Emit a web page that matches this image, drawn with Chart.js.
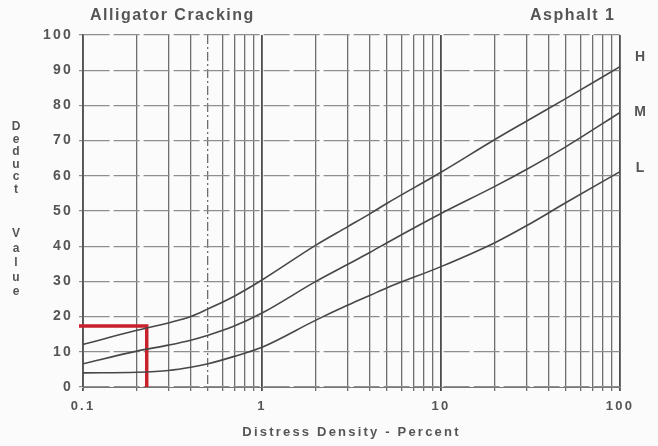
<!DOCTYPE html>
<html>
<head>
<meta charset="utf-8">
<script src="https://cdn.jsdelivr.net/npm/chart.js@4"></script>
<style>
  html, body { margin: 0; padding: 0; background: #fafafa; }
  #wrap { width: 658px; height: 446px; }
</style>
</head>
<body>
<div id="wrap"><canvas id="chart"></canvas></div>
<script>
// densidad (%) y valores deducidos
const density = [0.1, 0.2, 0.3, 0.4, 0.5, 0.7, 1, 2, 3, 4, 5, 10, 20, 30, 50, 100];
const high = [12.1, 16.1, 18.2, 20, 22.2, 25.8, 30.4, 40.3, 45.5, 49.2, 52.2, 61, 70.3, 75.5, 82, 91];
const medium = [6.6, 10.2, 11.9, 13.3, 14.7, 17.3, 21, 30, 34.8, 38.2, 41, 49.3, 57, 61.8, 68.3, 78];
const low = [4, 4.2, 4.7, 5.6, 6.6, 8.7, 11.3, 19, 23.2, 26, 28.2, 34.2, 41, 45.8, 52.4, 61.2];

// ejemplo marcado en rojo
const exampleX = [0.095, 0.227, 0.227];
const exampleY = [17.3, 17.3, 0];

const xGrid = [0.1, 0.2, 0.3, 0.4, 0.5, 0.6, 0.7, 0.8, 0.9,
  1, 2, 3, 4, 5, 6, 7, 8, 9,
  10, 20, 30, 40, 50, 60, 70, 80, 90, 100];
const xLabels = [0.1, 1, 10, 100];
const severity = ['H', 'M', 'L'];
const severityAt = [93.7, 78, 62.2];

const toPoints = (xs, ys) => xs.map((x, i) => ({ x: x, y: ys[i] }));

const curve = (data) => ({
  data: toPoints(density, data),
  borderColor: '#474747',
  borderWidth: 1.6,
  pointRadius: 0,
  cubicInterpolationMode: 'monotone',
  fill: false,
});

const FONT = '"Liberation Sans", Arial, sans-serif';
const TXT = '#555';
const SPACING = '2.2px';

const textPlugin = {
  id: 'textos',
  beforeUpdate(chart) {
    chart.ctx.letterSpacing = SPACING;
  },
  beforeDraw(chart) {
    const ctx = chart.ctx;
    ctx.letterSpacing = SPACING;
    ctx.save();
    ctx.fillStyle = '#fbfbfb';
    ctx.fillRect(0, 0, chart.width, chart.height);
    ctx.restore();
  },
  afterDraw(chart) {
    const ctx = chart.ctx;
    const y = chart.scales.y;
    ctx.save();
    ctx.fillStyle = TXT;
    ctx.textBaseline = 'middle';
    ctx.letterSpacing = '1.5px';
    ctx.font = 'bold 16px ' + FONT;
    ctx.textAlign = 'left';
    ctx.fillText('Alligator Cracking', 90, 16);
    ctx.fillText('Asphalt 1', 530, 16);

    ctx.letterSpacing = '0px';
    ctx.font = 'bold 14px ' + FONT;
    ctx.textAlign = 'center';
    severity.forEach((s, i) => {
      ctx.fillText(s, 640, y.getPixelForValue(severityAt[i]));
    });

    // titulo vertical con letras apiladas
    ctx.font = 'bold 12px ' + FONT;
    'Deduct'.split('').forEach((c, i) => ctx.fillText(c, 16, 127 + i * 12.5));
    'Value'.split('').forEach((c, i) => ctx.fillText(c, 16, 234 + i * 14.5));
    ctx.restore();
  }
};

new Chart(document.getElementById('chart'), {
  type: 'line',
  data: {
    datasets: [
      curve(high),
      curve(medium),
      curve(low),
      {
        data: toPoints(exampleX, exampleY),
        borderColor: '#c8202c',
        borderWidth: 3.5,
        pointRadius: 0,
        tension: 0,
        fill: false,
        clip: 8,
      }
    ]
  },
  options: {
    responsive: true,
    maintainAspectRatio: false,
    animation: false,
    layout: { padding: { left: 0, right: 38, top: 35, bottom: 0 } },
    plugins: {
      legend: { display: false },
      tooltip: { enabled: false },
    },
    scales: {
      x: {
        type: 'logarithmic',
        min: 0.1,
        max: 100,
        afterBuildTicks: (scale) => {
          scale.ticks = xGrid.map(v => ({ value: v }));
        },
        afterFit: (scale) => { scale.height = 59; },
        ticks: {
          autoSkip: false,
          maxRotation: 0,
          padding: 8,
          color: TXT,
          font: { family: FONT, size: 13, weight: 'bold' },
          callback: (v) => xLabels.includes(v) ? String(v) : '',
        },
        grid: {
          tickLength: 4,
          color: (ctx) => {
            const v = ctx.tick ? ctx.tick.value : 0;
            return xLabels.includes(v) ? '#4d4d4d' : '#6e6e6e';
          },
          lineWidth: (ctx) => {
            const v = ctx.tick ? ctx.tick.value : 0;
            return xLabels.includes(v) ? 1.8 : 1.3;
          },
        },
        border: {
          color: '#777',
          dash: (ctx) => (ctx.tick && ctx.tick.value === 0.5) ? [9, 3, 2, 3] : [],
        },
        title: {
          display: true,
          text: 'Distress Density - Percent',
          color: TXT,
          font: { family: FONT, size: 13, weight: 'bold' },
          padding: { top: 0, bottom: 6 },
        },
      },
      y: {
        min: 0,
        max: 100,
        afterFit: (scale) => { scale.width = 83; },
        ticks: {
          stepSize: 10,
          padding: 6,
          color: TXT,
          font: { family: FONT, size: 14, weight: 'bold' },
        },
        grid: {
          tickLength: 4,
          color: '#8e8e8e',
          lineWidth: 1.2,
        },
        border: {
          color: '#555',
          width: 1.6,
          dash: (ctx) => ctx.tick ? [26, 4] : [],
        },
      },
    },
  },
  plugins: [textPlugin],
});
</script>
</body>
</html>
